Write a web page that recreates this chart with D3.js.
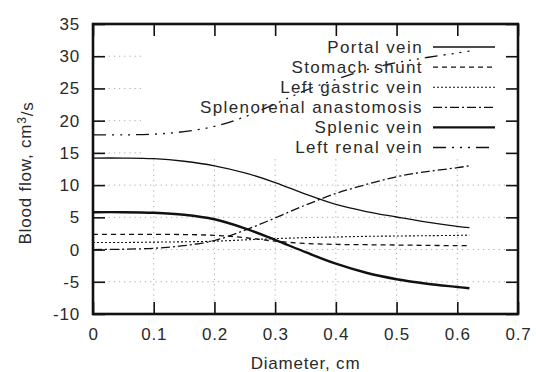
<!DOCTYPE html>
<html>
<head>
<meta charset="utf-8">
<script src="https://cdn.jsdelivr.net/npm/d3@7"></script>
<style>
  body { margin: 0; background: #fff; }
  text { font-family: "Liberation Sans", Arial, sans-serif; fill: #2a2a2a; }
</style>
</head>
<body>
<div id="chart"></div>
<script>
// data
var diameter = [0, 0.05, 0.1, 0.15, 0.2, 0.25, 0.3, 0.35, 0.4, 0.45, 0.5, 0.55, 0.6, 0.62];
var portalVein = [14.2, 14.2, 14.1, 13.7, 13.0, 11.9, 10.4, 8.6, 7.0, 5.9, 5.05, 4.25, 3.6, 3.4];
var stomachShunt = [2.35, 2.35, 2.35, 2.33, 2.2, 1.85, 1.3, 0.95, 0.8, 0.75, 0.7, 0.65, 0.6, 0.6];
var leftGastric = [1.1, 1.1, 1.15, 1.2, 1.3, 1.5, 1.7, 1.85, 1.95, 2.05, 2.1, 2.15, 2.2, 2.25];
var splenorenal = [0, 0.05, 0.2, 0.6, 1.4, 3.0, 4.9, 6.9, 8.7, 10.1, 11.3, 12.1, 12.7, 13.0];
var splenicVein = [5.8, 5.8, 5.7, 5.4, 4.7, 3.3, 1.5, -0.4, -2.2, -3.6, -4.6, -5.3, -5.8, -6.0];
var leftRenal = [17.8, 17.8, 17.9, 18.3, 19.1, 20.6, 22.6, 24.7, 26.4, 27.9, 29.0, 29.8, 30.5, 30.8];

var seriesNames = ["Portal vein", "Stomach shunt", "Left gastric vein", "Splenorenal anastomosis", "Splenic vein", "Left renal vein"];
var xTicks = [0, 0.1, 0.2, 0.3, 0.4, 0.5, 0.6, 0.7];
var yTicks = [-10, -5, 0, 5, 10, 15, 20, 25, 30, 35];

var series = [
  { name: seriesNames[0], values: portalVein, dash: null, w: 1.3 },
  { name: seriesNames[1], values: stomachShunt, dash: "5,4", w: 1.3 },
  { name: seriesNames[2], values: leftGastric, dash: "2,2", w: 1.1 },
  { name: seriesNames[3], values: splenorenal, dash: "9,3,2,3", w: 1.3 },
  { name: seriesNames[4], values: splenicVein, dash: null, w: 2.4 },
  { name: seriesNames[5], values: leftRenal, dash: "13,6,2,6,2,6,2,6", w: 1.3 }
];

var margin = { top: 24, right: 18, bottom: 58, left: 93 },
  width = 536 - margin.left - margin.right,
  height = 372 - margin.top - margin.bottom;

var svg = d3.select("#chart").append("svg")
  .attr("width", 536).attr("height", 372)
  .append("g")
  .attr("transform", "translate(" + margin.left + "," + margin.top + ")");

var x = d3.scaleLinear().domain([0, 0.7]).range([0, width]);
var y = d3.scaleLinear().domain([-10, 35]).range([height, 0]);

// grid
svg.append("g").selectAll("line").data(xTicks.slice(1, -1)).enter().append("line")
  .attr("x1", function (d) { return x(d); }).attr("x2", function (d) { return x(d); })
  .attr("y1", 0).attr("y2", height)
  .style("stroke", "#aaa").style("stroke-width", 1).style("stroke-dasharray", "1.2,4");
svg.append("g").selectAll("line").data(yTicks.slice(1, -1)).enter().append("line")
  .attr("x1", 0).attr("x2", width)
  .attr("y1", function (d) { return y(d); }).attr("y2", function (d) { return y(d); })
  .style("stroke", "#aaa").style("stroke-width", 1).style("stroke-dasharray", "1.2,4");

// opaque key box
svg.append("rect")
  .attr("x", 50).attr("y", 2).attr("width", width - 52).attr("height", 131)
  .style("fill", "#fff");

// axes, ticks inside
var fmtX = function (d) { return d === 0 ? "0" : d3.format(".1f")(d); };
var fmtY = function (d) { return String(d); };
var axL = svg.append("g").call(d3.axisLeft(y).tickValues(yTicks).tickFormat(fmtY).tickSize(-12).tickPadding(13));
var axB = svg.append("g").attr("transform", "translate(0," + height + ")")
  .call(d3.axisBottom(x).tickValues(xTicks).tickFormat(fmtX).tickSize(-12).tickPadding(14));
var axR = svg.append("g").attr("transform", "translate(" + width + ",0)")
  .call(d3.axisRight(y).tickValues(yTicks).tickSize(-12).tickFormat(""));
var axT = svg.append("g")
  .call(d3.axisTop(x).tickValues(xTicks).tickSize(-12).tickFormat(""));
[axL, axB, axR, axT].forEach(function (a) {
  a.select(".domain").remove();
  a.selectAll("line").style("stroke", "#111").style("stroke-width", 1.6);
  a.selectAll("text").style("font-size", "17px").style("fill", "#2a2a2a")
    .style("font-family", "'Liberation Sans', Arial, sans-serif").style("letter-spacing", "0.8px");
});

// curves
var line = d3.line()
  .x(function (d, i) { return x(diameter[i]); })
  .y(function (d) { return y(d); })
  .curve(d3.curveCatmullRom.alpha(0.5));

svg.selectAll(".curve").data(series).enter().append("path")
  .attr("class", "curve")
  .attr("d", function (s) { return line(s.values); })
  .style("fill", "none").style("stroke", "#111")
  .style("stroke-width", function (s) { return s.w; })
  .style("stroke-dasharray", function (s) { return s.dash; });

// border
svg.append("rect").attr("x", 0).attr("y", 0).attr("width", width).attr("height", height)
  .style("fill", "none").style("stroke", "#111").style("stroke-width", 2.6);

// legend
var key = svg.selectAll(".key").data(series).enter().append("g")
  .attr("class", "key")
  .attr("transform", function (s, i) { return "translate(0," + (23 + i * 20.1) + ")"; });
key.append("text")
  .attr("x", 330).attr("dy", "0.35em")
  .attr("text-anchor", "end")
  .style("font-size", "17px").style("letter-spacing", "1.4px")
  .text(function (s) { return s.name; });
key.append("line")
  .attr("x1", 340).attr("x2", 402)
  .style("stroke", "#111")
  .style("stroke-width", function (s) { return s.w; })
  .style("stroke-dasharray", function (s) { return s.dash; });

// axis titles
svg.append("text")
  .attr("x", width / 2).attr("y", height + 55)
  .attr("text-anchor", "middle")
  .style("font-size", "17px").style("letter-spacing", "0.8px")
  .text("Diameter, cm");

var yl = svg.append("text")
  .attr("transform", "translate(-62," + (height / 2 + 4) + ") rotate(-90)")
  .attr("text-anchor", "middle")
  .style("font-size", "17px").style("letter-spacing", "0.8px");
yl.append("tspan").text("Blood flow, cm");
yl.append("tspan").attr("dy", "-0.45em").style("font-size", "12px").text("3");
yl.append("tspan").attr("dy", "0.45em").text("/s");
</script>
</body>
</html>
